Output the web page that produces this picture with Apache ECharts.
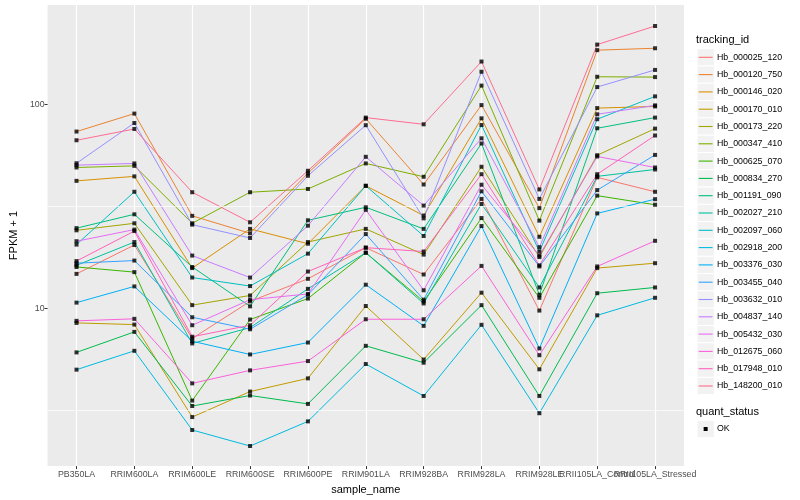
<!DOCTYPE html>
<html><head><meta charset="utf-8">
<script src="https://cdn.jsdelivr.net/npm/echarts@6/dist/echarts.min.js"></script>
<style>html,body{margin:0;padding:0;background:#fff}#c{width:800px;height:500px}</style>
</head><body><div id="c"></div>
<script>
const categories = ['PB350LA','RRIM600LA','RRIM600LE','RRIM600SE','RRIM600PE','RRIM901LA','RRIM928BA','RRIM928LA','RRIM928LE','RRII105LA_Control','RRII105LA_Stressed'];
const trackingIds = ['Hb_000025_120','Hb_000120_750','Hb_000146_020','Hb_000170_010','Hb_000173_220','Hb_000347_410','Hb_000625_070','Hb_000834_270','Hb_001191_090','Hb_002027_210','Hb_002097_060','Hb_002918_200','Hb_003376_030','Hb_003455_040','Hb_003632_010','Hb_004837_140','Hb_005432_030','Hb_012675_060','Hb_017948_010','Hb_148200_010'];
const yTickValues = [10, 100];
const yMinorBreaks = [3.1623, 31.623];
const quantStatus = ['OK'];

const Hb_000025_120 = [14.8, 20.5, 7.14, 10.85, 14.0, 19.9, 14.7, 34.5, 9.78, 44.0, 37.4];
const Hb_000120_750 = [73.8, 90.4, 28.5, 23.4, 46.1, 85.3, 40.6, 99.5, 31.1, 185, 189];
const Hb_000146_020 = [42.3, 44.5, 15.8, 24.6, 20.8, 40.0, 28.6, 85.7, 22.5, 96.2, 98.0];
const Hb_000170_010 = [8.51, 8.35, 2.94, 3.92, 4.55, 10.3, 5.63, 11.97, 5.04, 15.8, 16.7];
const Hb_000173_220 = [24.2, 26.2, 10.4, 11.6, 21.2, 24.6, 18.4, 49.6, 17.9, 56.5, 76.3];
const Hb_000347_410 = [49.2, 50.1, 26.2, 37.2, 38.6, 51.5, 44.3, 124, 27.0, 137, 136.5];
const Hb_000625_070 = [16.0, 15.1, 3.54, 8.84, 11.2, 18.8, 10.85, 27.8, 11.3, 35.8, 32.3];
const Hb_000834_270 = [6.10, 7.69, 3.33, 3.75, 3.41, 6.57, 5.43, 10.4, 3.73, 11.9, 12.7];
const Hb_001191_090 = [24.8, 29.0, 16.0, 10.26, 27.1, 31.4, 24.6, 64.5, 11.7, 76.6, 86.4];
const Hb_002027_210 = [16.3, 21.2, 6.75, 8.07, 12.5, 18.8, 10.6, 32.6, 12.7, 44.5, 48.1];
const Hb_002097_060 = [20.6, 37.4, 14.2, 12.9, 18.6, 40.0, 22.7, 79.5, 19.05, 84.8, 109.8];
const Hb_002918_200 = [5.02, 6.21, 2.54, 2.12, 2.80, 5.35, 3.73, 8.33, 3.07, 9.27, 11.3];
const Hb_003376_030 = [10.7, 12.85, 6.92, 5.96, 6.82, 13.1, 8.23, 25.4, 6.38, 29.3, 34.4];
const Hb_003455_040 = [16.7, 17.2, 9.07, 7.92, 11.7, 23.2, 11.06, 37.6, 16.1, 38.1, 56.7];
const Hb_003632_010 = [51.6, 81.3, 25.8, 22.2, 44.8, 79.3, 27.7, 145, 34.5, 122, 148];
const Hb_004837_140 = [50.5, 51.5, 18.2, 14.2, 25.5, 55.5, 32.0, 68.4, 20.0, 89.7, 99.2];
const Hb_005432_030 = [21.4, 24.4, 8.29, 11.06, 11.8, 30.5, 12.3, 40.5, 18.2, 55.7, 49.2];
const Hb_012675_060 = [8.71, 8.91, 4.30, 4.98, 5.53, 8.87, 8.87, 16.2, 5.91, 16.1, 21.5];
const Hb_017948_010 = [17.1, 24.0, 7.28, 8.29, 15.2, 19.9, 19.05, 45.6, 16.3, 45.6, 70.6];
const Hb_148200_010 = [66.9, 76.0, 37.2, 26.5, 47.4, 86.4, 80.1, 162.7, 38.4, 197, 243];

const seriesValues = [Hb_000025_120, Hb_000120_750, Hb_000146_020, Hb_000170_010, Hb_000173_220, Hb_000347_410, Hb_000625_070, Hb_000834_270, Hb_001191_090, Hb_002027_210, Hb_002097_060, Hb_002918_200, Hb_003376_030, Hb_003455_040, Hb_003632_010, Hb_004837_140, Hb_005432_030, Hb_012675_060, Hb_017948_010, Hb_148200_010];

const palette = ['#F8766D','#EA8331','#D89000','#C09B00','#A3A500','#7CAE00','#39B600','#00BB4E','#00BF7D','#00C1A3','#00BFC4','#00BAE0','#00B0F6','#35A2FF','#9590FF','#C77CFF','#E76BF3','#FA62DB','#FF62BC','#FF6C91'];

const FONT = 'Liberation Sans, Arial, sans-serif';
const yMin = 1.69, yMax = 308;

const series = [];
// minor horizontal grid lines (log midpoints), drawn through the y scale
series.push({
  name: 'minorGrid', type: 'line', data: [], z: 1, silent: true, animation: false,
  markLine: {
    silent: true, symbol: ['none', 'none'], label: { show: false }, animation: false,
    lineStyle: { color: '#fff', width: 0.7, type: 'solid' },
    data: yMinorBreaks.map(v => ({ yAxis: v }))
  }
});
trackingIds.forEach((id, i) => {
  series.push({
    name: id, type: 'line', data: seriesValues[i], showSymbol: false, symbol: 'none',
    lineStyle: { color: palette[i], width: 1 }, itemStyle: { color: palette[i] },
    z: 2, silent: true, animation: false
  });
});
trackingIds.forEach((id, i) => {
  series.push({
    name: id + '_pts', type: 'scatter', data: seriesValues[i], symbol: 'rect', symbolSize: 4,
    itemStyle: { color: '#000' }, z: 5, silent: true, animation: false
  });
});

// legend drawn as graphics
const graphic = [];
const legX = 697, keySize = 17.3, firstKey = 57.3;
graphic.push({ type: 'text', left: 696, top: 34, style: { text: 'tracking_id', font: '11px ' + FONT, fill: '#000' } });
trackingIds.forEach((id, i) => {
  const yc = firstKey + i * keySize;
  graphic.push({ type: 'rect', shape: { x: legX, y: yc - keySize / 2, width: keySize, height: keySize }, style: { fill: '#F2F2F2', stroke: '#fff', lineWidth: 1 }, silent: true });
  graphic.push({ type: 'line', shape: { x1: legX + 1.7, y1: yc, x2: legX + keySize - 1.7, y2: yc }, style: { stroke: palette[i], lineWidth: 1.1 }, silent: true });
  graphic.push({ type: 'text', style: { text: id, x: 717, y: yc, font: '8.8px ' + FONT, fill: '#000', align: 'left', verticalAlign: 'middle' }, silent: true });
});
graphic.push({ type: 'text', left: 696, top: 406, style: { text: 'quant_status', font: '11px ' + FONT, fill: '#000' } });
quantStatus.forEach((q, i) => {
  const yc = 429 + i * keySize;
  graphic.push({ type: 'rect', shape: { x: legX, y: yc - keySize / 2, width: keySize, height: keySize }, style: { fill: '#F2F2F2', stroke: '#fff', lineWidth: 1 }, silent: true });
  graphic.push({ type: 'rect', shape: { x: legX + keySize / 2 - 2, y: yc - 2, width: 4, height: 4 }, style: { fill: '#000' }, silent: true });
  graphic.push({ type: 'text', style: { text: q, x: 717, y: yc, font: '8.8px ' + FONT, fill: '#000', align: 'left', verticalAlign: 'middle' }, silent: true });
});

const chart = echarts.init(document.getElementById('c'), null, { renderer: 'canvas' });
chart.setOption({
  animation: false,
  backgroundColor: '#fff',
  textStyle: { fontFamily: FONT },
  grid: { left: 40, right: 116, top: 5, bottom: 32, show: true, backgroundColor: '#EBEBEB', borderWidth: 0, containLabel: false },
  xAxis: [{
    type: 'category', data: categories, boundaryGap: true,
    axisLine: { show: false },
    axisTick: { show: true, alignWithLabel: true, length: 3, lineStyle: { color: '#333', width: 1 } },
    axisLabel: { interval: 0, hideOverlap: false, fontSize: 8.8, color: '#4D4D4D', margin: 4, fontFamily: FONT },
    splitLine: { show: true, alignWithLabel: true, lineStyle: { color: '#fff', width: 1.2 } },
    name: 'sample_name', nameLocation: 'middle', nameGap: 17,
    nameTextStyle: { fontSize: 11, color: '#000', fontFamily: FONT }
  }],
  yAxis: [{
    type: 'log', logBase: 10, min: yMin, max: yMax,
    axisLine: { show: false },
    axisTick: { show: true, length: 3, lineStyle: { color: '#333', width: 1 }, customValues: yTickValues },
    axisLabel: { fontSize: 8.8, color: '#4D4D4D', margin: 3, fontFamily: FONT, customValues: yTickValues },
    splitLine: { show: true, showMinLine: false, showMaxLine: false, lineStyle: { color: '#fff', width: 1.2 } },
    name: 'FPKM + 1', nameLocation: 'middle', nameGap: 24, nameRotate: 90,
    nameTextStyle: { fontSize: 11, color: '#000', fontFamily: FONT }
  }],
  series: series,
  graphic: graphic
});
</script></body></html>
